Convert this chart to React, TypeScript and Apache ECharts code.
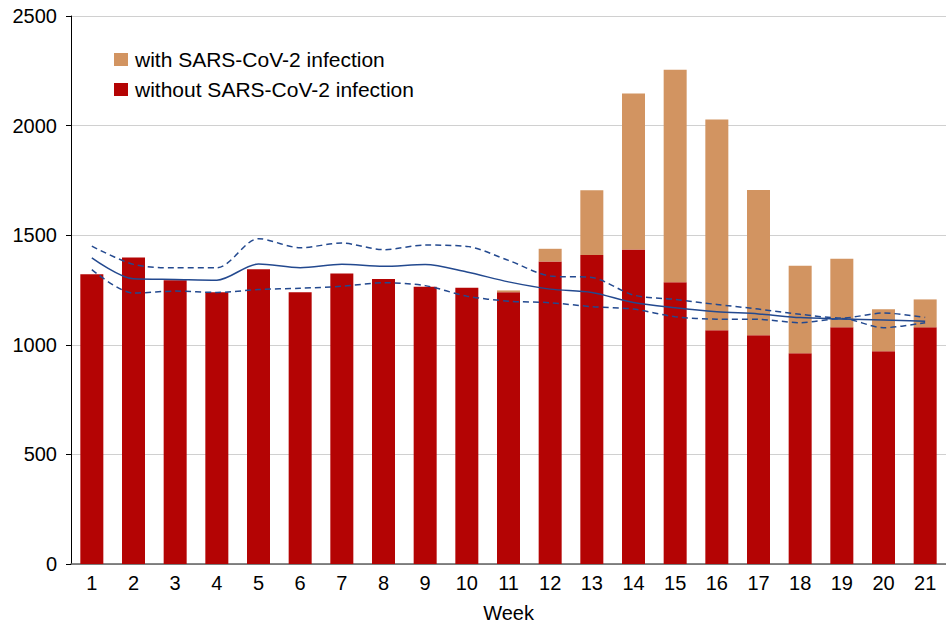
import React, { useEffect, useRef } from "react";
import * as echarts from "echarts";

const weeks = ["1","2","3","4","5","6","7","8","9","10","11","12","13","14","15","16","17","18","19","20","21"];
const withoutInfection = [1322,1398,1295,1240,1345,1240,1325,1300,1265,1260,1240,1380,1410,1435,1285,1066,1044,962,1080,971,1080];
const withInfection = [0,0,0,0,0,0,0,0,0,0,8,58,295,711,970,962,662,399,313,191,127];
const expected = [1397,1301,1298,1295,1369,1352,1367,1358,1366,1332,1287,1254,1239,1193,1169,1151,1141,1124,1118,1113,1108];
const upperBound = [1450,1367,1351,1351,1484,1443,1464,1434,1455,1449,1385,1314,1307,1227,1207,1184,1163,1139,1122,1145,1125];
const lowerBound = [1343,1236,1245,1239,1252,1258,1267,1283,1270,1222,1199,1192,1174,1163,1128,1117,1116,1101,1120,1078,1101];
const yTicks = [0, 500, 1000, 1500, 2000, 2500];

export default function App() {
  const ref = useRef<HTMLDivElement>(null);
  useEffect(() => {
    if (!ref.current) return;
    const chart = echarts.init(ref.current, null, { renderer: "svg" });
    const font = "'Liberation Sans', Arial, Helvetica, sans-serif";
    const narrow = "'Liberation Sans Narrow', 'Arial Narrow', 'Liberation Sans', Arial, sans-serif";
    const lineColor = "#23498f";
    chart.setOption({
      animation: false,
      textStyle: { fontFamily: font },
      grid: { left: 71, right: 0, top: 16, bottom: 61, containLabel: false },
      legend: {
        orient: "vertical",
        left: 109,
        top: 44,
        itemWidth: 14,
        itemHeight: 13,
        itemGap: 9,
        icon: "rect",
        textStyle: { fontSize: 21, color: "#000", fontFamily: font, padding: [0, 0, 0, 2] },
        data: ["with SARS-CoV-2 infection", "without SARS-CoV-2 infection"],
      },
      xAxis: {
        type: "category",
        data: weeks,
        name: "Week",
        nameLocation: "middle",
        nameGap: 39,
        nameTextStyle: { fontSize: 20, color: "#000", fontFamily: font },
        axisLine: { lineStyle: { color: "#606060", width: 1.5 } },
        axisTick: { show: false },
        axisLabel: { fontSize: 20, color: "#000", margin: 9, fontFamily: narrow },
      },
      yAxis: {
        type: "value",
        min: yTicks[0],
        max: yTicks[yTicks.length - 1],
        interval: 500,
        axisLine: { show: true, lineStyle: { color: "#000", width: 1 } },
        axisTick: { show: true, length: 5, lineStyle: { color: "#000" } },
        axisLabel: {
          fontSize: 20,
          color: "#000",
          margin: 14,
          fontFamily: font,
          formatter: (v: number) => String(v),
        },
        splitLine: { lineStyle: { color: "#d0d0d0", width: 1 } },
      },
      series: [
        {
          name: "without SARS-CoV-2 infection",
          type: "bar",
          stack: "total",
          data: withoutInfection,
          barWidth: 23,
          itemStyle: { color: "#b40404" },
        },
        {
          name: "with SARS-CoV-2 infection",
          type: "bar",
          stack: "total",
          data: withInfection,
          barWidth: 23,
          itemStyle: { color: "#d29461" },
        },
        {
          name: "expected",
          type: "line",
          data: expected,
          smooth: 0.3,
          symbol: "none",
          lineStyle: { color: lineColor, width: 1.5, type: "solid" },
          z: 5,
        },
        {
          name: "upper",
          type: "line",
          data: upperBound,
          smooth: 0.3,
          symbol: "none",
          lineStyle: { color: lineColor, width: 1.5, type: [6, 4] },
          z: 5,
        },
        {
          name: "lower",
          type: "line",
          data: lowerBound,
          smooth: 0.3,
          symbol: "none",
          lineStyle: { color: lineColor, width: 1.5, type: [6, 4] },
          z: 5,
        },
      ],
    });
    return () => chart.dispose();
  }, []);
  return <div ref={ref} style={{ width: 946, height: 628, position: "absolute", left: 0, top: 0 }} />;
}
